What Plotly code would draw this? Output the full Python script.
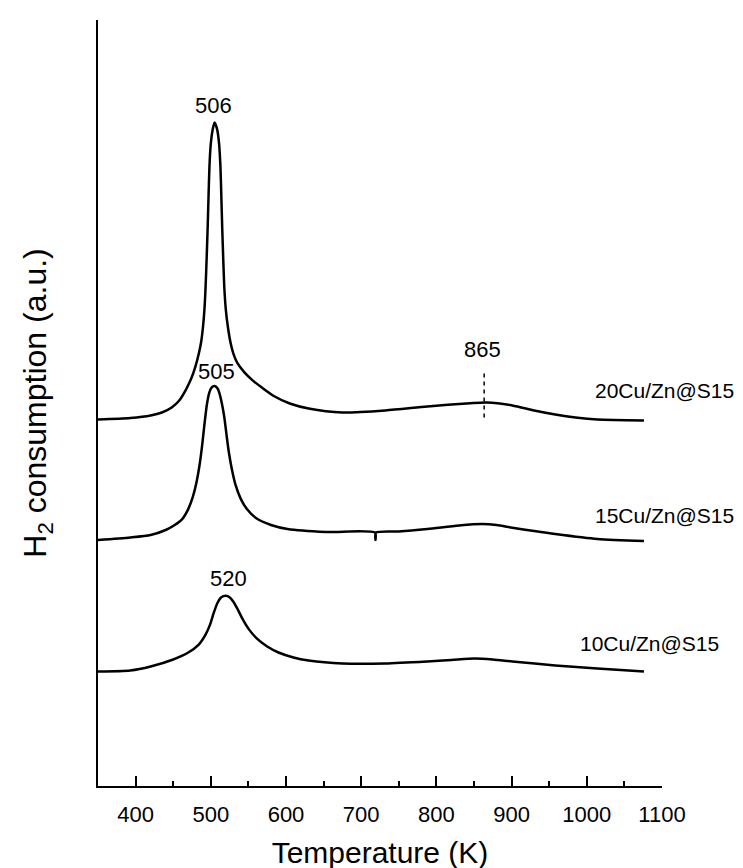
import plotly.graph_objects as go

# Temperature (K) and H2 consumption (a.u.)
t_20 = [350, 393, 420, 435, 448, 458, 467, 474, 479.5, 484, 487, 489.5, 491.5, 493, 494.5, 495.8,
        497, 498.2, 500, 502.5, 505, 508.5, 511, 512.8, 514, 515.2, 516.5, 518, 520, 522.5, 526,
        530, 535, 545, 556, 568, 585, 605, 630, 675, 732, 788, 845, 867, 901, 930, 958, 985, 1014, 1076]
h_20 = [368, 369.5, 372, 375, 380, 387, 398, 409, 421, 434, 445, 460, 478, 500, 530, 560,
        592, 622, 645, 659, 666, 659, 645, 622, 592, 560, 530, 500, 478, 462, 446,
        434, 425, 415, 407, 400, 391, 384, 379, 375, 377, 381, 384.3, 385, 382, 377, 373, 370, 368, 367]

t_15 = [350, 393, 420, 440, 452, 462, 470, 476, 481, 485, 488.5, 492, 495, 498, 501, 505, 509, 512,
        515, 518, 521, 524, 528, 533, 540, 548, 560, 580, 602, 653, 718.5, 719, 719.5, 750, 788,
        830, 861, 880, 901, 930, 958, 1014, 1076]
h_15 = [247, 249.5, 252, 257, 262, 268, 278, 290, 305, 322, 342, 366, 384, 395, 400, 401.5, 399, 393,
        383, 370, 352, 335, 318, 302, 288, 278, 269, 262, 258, 255, 254.3, 247, 254.3, 255.5, 258,
        261.5, 263, 262, 259.3, 256, 253, 248, 246]

t_10 = [350, 393, 420, 450, 470, 484, 493, 499, 504, 509, 514, 520, 525, 530, 536, 542, 550, 560,
        575, 590, 610, 630, 675, 732, 788, 820, 851, 875, 901, 958, 1014, 1076]
h_10 = [115, 116, 120, 127, 134, 142, 152, 162, 174, 184, 189.5, 191, 189.5, 185, 177, 168, 158, 149,
        140, 134, 129, 126, 123, 123, 125, 126.5, 128, 127, 125, 121, 118, 115]

series_names = ["20Cu/Zn@S15", "15Cu/Zn@S15", "10Cu/Zn@S15"]
name_pos_x = [1009, 1010, 990]
name_pos_y = [397.5, 271.5, 143.5]

peak_labels = ["506", "505", "520", "865"]
peak_x = [503, 507, 523, 861]
peak_y = [683.5, 416, 208.5, 438.5]

dash_x = [863.5, 863.5]
dash_y = [414, 367]

x_ticks = [400, 500, 600, 700, 800, 900, 1000, 1100]

FONT = "Liberation Sans, Arial, sans-serif"

fig = go.Figure()
for t, h in [(t_20, h_20), (t_15, h_15), (t_10, h_10)]:
    fig.add_trace(go.Scatter(x=t, y=h, mode="lines",
                             line=dict(color="black", width=2.5, shape="spline", smoothing=0.7),
                             showlegend=False, hoverinfo="skip"))
fig.add_trace(go.Scatter(x=dash_x, y=dash_y, mode="lines",
                         line=dict(color="black", width=1.5, dash="4px,4px"),
                         showlegend=False, hoverinfo="skip"))

for name, x, y in zip(series_names, name_pos_x, name_pos_y):
    fig.add_annotation(x=x, y=y, text=name, showarrow=False, xanchor="left", yanchor="middle",
                       borderpad=0, font=dict(family=FONT, size=21, color="black"))
for lab, x, y in zip(peak_labels, peak_x, peak_y):
    fig.add_annotation(x=x, y=y, text=lab, showarrow=False, xanchor="center", yanchor="middle",
                       font=dict(family=FONT, size=22, color="black"))

fig.update_layout(
    width=743, height=868,
    margin=dict(l=90, r=89, t=12, b=87),
    paper_bgcolor="white", plot_bgcolor="white",
    font=dict(family=FONT, color="black"),
    showlegend=False,
    xaxis=dict(range=[350, 1100], tickvals=x_ticks, ticktext=[str(v) for v in x_ticks],
               ticks="inside", ticklen=10, tickwidth=2, tickcolor="black",
               minor=dict(ticks="inside", ticklen=5, tickwidth=2, dtick=50, tick0=350, tickcolor="black"),
               showline=True, linecolor="black", linewidth=2, showgrid=False, zeroline=False,
               tickfont=dict(family=FONT, size=22, color="black"),
               ticklabelstandoff=8,
               title=dict(text="Temperature (K)", font=dict(family=FONT, size=30, color="black"), standoff=16)),
    yaxis=dict(range=[0, 769], showline=True, linecolor="black", linewidth=2, showgrid=False,
               zeroline=False, showticklabels=False, ticks="",
               title=dict(text="H<sub>2</sub> consumption (a.u.)",
                          font=dict(family=FONT, size=32, color="black"), standoff=40)),
)

fig.write_html("out.html")
